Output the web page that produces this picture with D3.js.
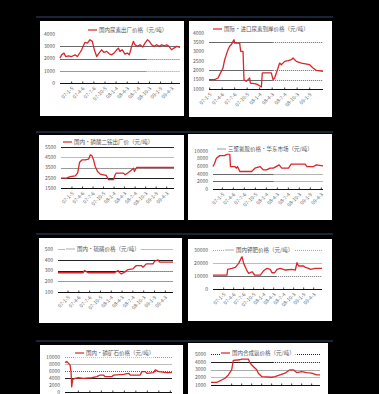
<!DOCTYPE html>
<meta charset="utf-8">
<style>
  body { margin: 0; background: #000; }
  svg { display: block; }
</style>
<body>
<script src="https://cdn.jsdelivr.net/npm/d3@7"></script>
<script>

// period index (weeks) and price
var p1Data = [[0,2030],[5,2300],[12,2440],[17,2160],[25,2220],[35,2160],[45,2300],[52,2160],[60,2490],[65,2710],[70,3040],[75,3320],[82,3260],[90,3530],[97,3400],[103,2710],[110,2160],[117,2440],[125,2710],[132,2490],[140,2580],[148,2380],[155,2300],[162,2440],[170,2710],[175,2850],[180,2580],[187,2710],[195,2360],[202,2440],[208,2300],[215,2990],[220,3400],[225,3120],[232,2990],[240,3120],[248,2930],[255,3260],[262,3530],[268,3400],[275,3120],[282,2990],[290,3120],[298,2990],[305,3120],[312,3040],[320,3120],[327,2990],[335,2710],[342,2850],[350,2990],[360,2900]];
var p2Data = [[0,1500],[17,1500],[27,1590],[32,1770],[42,2125],[47,2570],[52,2840],[57,3110],[62,3290],[67,3380],[72,3550],[75,3640],[77,3460],[92,3460],[95,3020],[102,3020],[105,1500],[112,1410],[117,1500],[122,1590],[124,1320],[137,1290],[147,1230],[157,1110],[160,1860],[187,1860],[192,1500],[197,1590],[207,2125],[212,2390],[217,2300],[227,2480],[237,2520],[247,2570],[252,2660],[262,2480],[277,2390],[302,2300],[312,2125],[322,2000],[342,1950]];
var p3Data = [[0,2470],[18,2470],[23,2560],[33,2630],[43,2690],[50,2950],[56,4020],[63,4240],[73,4240],[83,4310],[88,4730],[93,4660],[98,4240],[103,3600],[110,3110],[118,2850],[128,2790],[136,2730],[143,2310],[158,2310],[163,2790],[166,2950],[188,2950],[193,2790],[203,3020],[213,3270],[218,3440],[221,3110],[225,3370],[228,3500],[340,3500]];
var p4Data = [[0,5910],[5,6780],[10,8090],[20,8780],[35,8780],[43,9220],[50,9130],[52,5910],[65,5910],[70,5480],[73,5910],[80,4610],[115,4610],[125,5480],[140,5910],[150,5040],[160,5040],[170,5480],[180,5480],[197,6350],[205,5480],[225,5480],[233,6520],[275,6520],[280,5910],[300,5910],[308,6350],[328,6090]];
var p5Data = [[0,279],[75,279],[80,300],[90,279],[170,279],[180,300],[185,279],[190,269],[200,285],[210,309],[225,316],[235,346],[250,346],[255,331],[265,362],[285,362],[290,386],[300,399],[305,377],[345,377]];
var p6Data = [[0,10750],[42,10750],[44,15100],[57,15900],[67,16600],[77,19700],[84,23500],[87,24800],[92,19700],[102,14100],[107,12000],[117,13300],[125,10750],[142,10750],[152,14100],[162,15900],[172,15100],[177,12500],[185,12500],[192,15100],[202,15900],[217,14600],[237,15100],[247,14600],[252,20200],[257,17700],[272,17700],[277,16600],[287,15900],[292,15100],[307,15900],[327,15900]];
var p7Data = [[0,8440],[5,8730],[10,8250],[15,7760],[18,5820],[20,1460],[23,3590],[30,3880],[40,4070],[55,3880],[80,4070],[95,4370],[105,4850],[115,4850],[120,4370],[140,4370],[145,4850],[175,5040],[190,5340],[195,4850],[225,4850],[230,5820],[240,5820],[245,5340],[265,5530],[270,6300],[280,5820],[305,5530],[320,5530]];
var p8Data = [[0,1350],[17,1350],[22,1430],[32,1650],[42,1870],[52,2300],[62,2960],[67,4170],[87,4260],[92,4350],[112,4350],[117,3830],[127,3390],[137,2960],[142,2520],[152,2090],[182,2000],[192,2090],[207,2300],[222,2520],[237,2960],[247,2960],[257,2610],[272,2740],[287,2610],[302,2520],[317,2300],[327,2300]];

var titles = [
  '国内尿素出厂价格（元/吨）',
  '国际·进口尿素到岸价格（元/吨）',
  '国内·磷酸二铵出厂价（元/吨）',
  '三聚氰胺价格·华东市场（元/吨）',
  '国内·硫磺价格（元/吨）',
  '国内钾肥价格（元/吨）',
  '国内·磷矿石价格（元/吨）',
  '国内合成氨价格（元/吨）'
];

var dateLabels = ['07-1-5','07-4-6','07-7-6','07-10-5','08-1-4','08-4-3','08-7-4','08-10-3','09-1-9','09-4-3','09-7-3'];

var yTicks1 = [0,1000,2000,3000,4000];
var yTicks2 = [1000,1500,2000,2500,3000,3500,4000];
var yTicks3 = [1500,2500,3500,4500,5500];
var yTicks4 = [0,2000,4000,6000,8000,10000];
var yTicks5 = [100,200,300,400,500];
var yTicks6 = [0,10000,20000,30000];
var yTicks7 = [0,2000,4000,6000,8000,10000];
var yTicks8 = [1000,2000,3000,4000,5000];

var W = 379, H = 394;
var svg = d3.select('body').append('svg')
  .attr('width', W).attr('height', H);
svg.append('rect').attr('width', W).attr('height', H).attr('fill', '#000');

// navy rules above each row
[17, 132, 234, 341].forEach(function(y) {
  svg.append('line').attr('x1', 36).attr('x2', 333).attr('y1', y).attr('y2', y)
    .attr('stroke', '#22304a').attr('stroke-width', 1.5);
});

var FONT = '"Noto Sans CJK SC", "DejaVu Sans", sans-serif';
var DARK = '#6a6a6a', BLACK = '#222', LIGHT = '#bdbdbd';

// layout: box = [x, y, w, h], plot = [x0, x1, yTop, yBottom]
var panels = [
  {data: p1Data, t: [0,360], y: yTicks1, box: [40,21,144,95], plot: [60,180,34,83], leg: [88,30], lc: '#d8262a',
   grid: [{v:3000,c:DARK,cut:1},{v:2000,c:DARK,cut:0.72},{v:1000,c:'#999',cut:0.72}], ticks: [35,335,10]},
  {data: p2Data, t: [0,342], y: yTicks2, box: [189,21,143,96], plot: [209,323,33,89], leg: [213,29], lc: '#d8262a',
   grid: [{v:3500,c:DARK,cut:0.56},{v:2000,c:DARK,cut:0.56},{v:1500,c:DARK,cut:0.56}], ticks: [2,302,9]},
  {data: p3Data, t: [0,340], y: yTicks3, box: [39,135,145,85], plot: [61,174,147,188], leg: [63,142], lc: '#d8262a',
   grid: [{v:5500,c:BLACK,cut:1},{v:4500,c:LIGHT,cut:1},{v:3500,c:'#999',cut:1},{v:2500,c:BLACK,cut:1}], ticks: [33,318,10]},
  {data: p4Data, t: [0,328], y: yTicks4, box: [188,134,144,86], plot: [213,323,151,189], leg: [217,149], lc: '#aaa',
   grid: [{v:4000,c:DARK,cut:0.55},{v:2000,c:DARK,cut:0.55}], ticks: [28,323,10]},
  {data: p5Data, t: [0,345], y: yTicks5, box: [39,238,143,85], plot: [58,173,249,292], leg: [66,249], lc: '#bbb',
   grid: [{v:500,c:LIGHT,cut:1},{v:400,c:BLACK,cut:1},{v:300,c:BLACK,cut:0.57},{v:200,c:'#999',cut:1}], ticks: [30,322,10]},
  {data: p6Data, t: [0,327], y: yTicks6, box: [188,239,144,82], plot: [213,322,250,289], leg: [225,250], lc: '#bbb',
   grid: [{v:30000,c:'#aaa',cut:0},{v:20000,c:LIGHT,cut:1},{v:10000,c:DARK,cut:0.58}], ticks: [32,302,10]},
  {data: p7Data, t: [0,320], y: yTicks7, box: [40,345,143,60], plot: [65,172,357,392], leg: [75,353], lc: '#d8262a',
   grid: [{v:10000,c:'#999',cut:0},{v:8000,c:LIGHT,cut:1},{v:6000,c:DARK,cut:0},{v:4000,c:BLACK,cut:1}], ticks: [40,315,9], noLabels: true},
  {data: p8Data, t: [0,327], y: yTicks8, box: [188,343,140,60], plot: [211,320,354,385], leg: [221,353], lc: '#d8262a',
   grid: [{v:5000,c:BLACK,cut:0},{v:4000,c:BLACK,cut:0.57},{v:3000,c:'#aaa',cut:1},{v:2000,c:LIGHT,cut:1}], ticks: [62,302,9], noLabels: true}
];

panels.forEach(function(p, i) {
  var g = svg.append('g');
  g.append('rect').attr('x', p.box[0]).attr('y', p.box[1])
    .attr('width', p.box[2]).attr('height', p.box[3]).attr('fill', '#fff');

  var x = d3.scaleLinear().domain(p.t).range([p.plot[0], p.plot[1]]);
  var y = d3.scaleLinear().domain([p.y[0], p.y[p.y.length - 1]]).range([p.plot[3], p.plot[2]]);

  // gridlines: solid part, then dotted remainder
  p.grid.forEach(function(gl) {
    var yy = Math.round(y(gl.v)) + 0.5;
    var xc = p.plot[0] + (p.plot[1] - p.plot[0]) * gl.cut;
    if (gl.cut > 0)
      g.append('line').attr('x1', p.plot[0]).attr('x2', xc).attr('y1', yy).attr('y2', yy)
        .attr('stroke', gl.c).attr('stroke-width', 1.1);
    if (gl.cut < 1)
      g.append('line').attr('x1', xc).attr('x2', p.plot[1]).attr('y1', yy).attr('y2', yy)
        .attr('stroke', gl.c).attr('stroke-width', 1).attr('stroke-dasharray', '1,1');
  });

  // y labels
  g.selectAll('.yl').data(p.y).enter().append('text')
    .attr('x', p.plot[0] - 5).attr('y', function(d) { return y(d); })
    .attr('dy', '0.35em').attr('text-anchor', 'end')
    .attr('font-family', FONT).attr('font-size', 5).attr('fill', '#555')
    .text(function(d) { return d; });

  // x axis line and ticks
  var ay = Math.round(y(p.y[0])) + 0.5;
  g.append('line').attr('x1', p.plot[0]).attr('x2', p.plot[1]).attr('y1', ay).attr('y2', ay)
    .attr('stroke', '#111').attr('stroke-width', 1);
  var n = p.ticks[2];
  var tv = d3.range(n).map(function(k) { return p.ticks[0] + (p.ticks[1] - p.ticks[0]) * k / (n - 1); });
  g.selectAll('.tk').data(tv).enter().append('line')
    .attr('x1', function(d) { return x(d); }).attr('x2', function(d) { return x(d); })
    .attr('y1', ay).attr('y2', ay - 2).attr('stroke', '#111').attr('stroke-width', 0.8);
  // rows at the bottom are cut by the frame, their date labels fall outside
  if (!p.noLabels)
    g.selectAll('.xl').data(tv).enter().append('text')
      .attr('transform', function(d) { return 'translate(' + (x(d) + 1) + ',' + (ay + 4) + ') rotate(-45)'; })
      .attr('text-anchor', 'end').attr('dy', '0.35em')
      .attr('font-family', FONT).attr('font-size', 5).attr('fill', '#666')
      .text(function(d, k) { return dateLabels[k]; });

  // series
  var line = d3.line().x(function(d) { return x(d[0]); }).y(function(d) { return y(d[1]); });
  g.append('path').datum(p.data).attr('d', line)
    .attr('fill', 'none').attr('stroke', '#d8262a').attr('stroke-width', 1.3)
    .attr('stroke-linejoin', 'round');

  // legend
  var lg = g.append('g').attr('transform', 'translate(' + p.leg[0] + ',' + p.leg[1] + ')');
  var tx = lg.append('text').attr('x', 11).attr('dy', '0.35em')
    .attr('font-family', FONT).attr('font-size', 5.5).attr('fill', '#555')
    .text(titles[i]);
  var bb = tx.node().getBBox();
  lg.insert('rect', 'text').attr('x', -1).attr('y', bb.y - 0.5)
    .attr('width', bb.x + bb.width + 2).attr('height', bb.height + 1).attr('fill', '#fff');
  lg.append('line').attr('x1', 0).attr('x2', 9).attr('y1', 0).attr('y2', 0)
    .attr('stroke', p.lc).attr('stroke-width', 1.2);
});

</script>
</body>
</html>
